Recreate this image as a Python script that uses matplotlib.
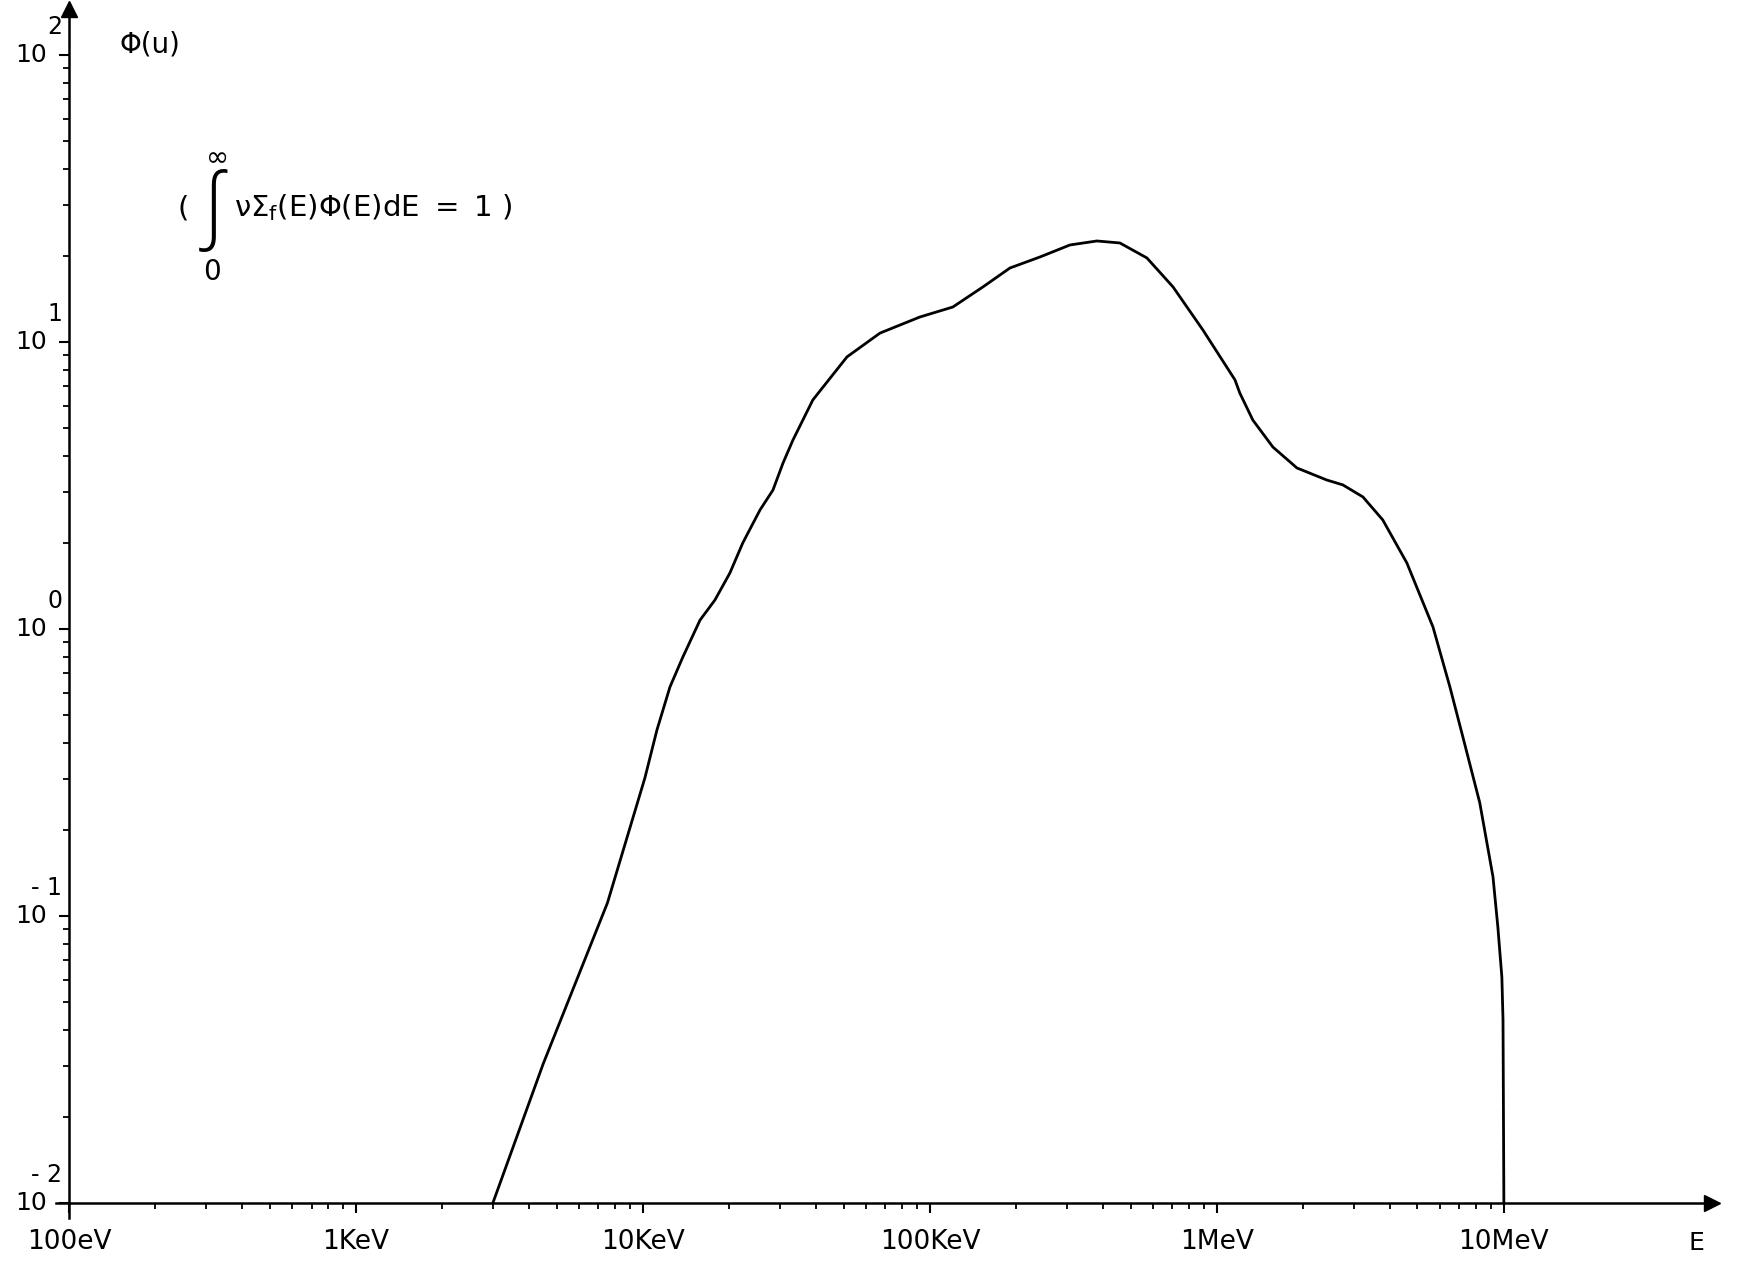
import matplotlib
matplotlib.use("Agg")
import matplotlib.pyplot as plt
from matplotlib.ticker import FixedLocator, FixedFormatter, NullFormatter

plt.rcParams['font.family'] = ['DejaVu Sans']
plt.rcParams['mathtext.default'] = 'regular'

# neutron spectrum, E in eV, phi(u) per unit lethargy
energy = [3.0e3, 4.49e3, 7.52e3, 1.016e4, 1.119e4, 1.242e4, 1.377e4, 1.581e4,
          1.782e4, 2.009e4, 2.228e4, 2.559e4, 2.838e4, 3.076e4, 3.334e4,
          3.908e4, 5.140e4, 6.699e4, 9.226e4, 1.202e5, 1.531e5, 1.901e5,
          2.415e5, 3.076e5, 3.819e5, 4.592e5, 5.702e5, 7.031e5, 8.933e5,
          1.156e6, 1.202e6, 1.334e6, 1.567e6, 1.901e6, 2.415e6, 2.748e6,
          3.228e6, 3.784e6, 4.592e6, 5.662e6, 6.486e6, 7.194e6, 8.241e6,
          9.162e6, 9.528e6, 9.840e6, 9.931e6, 1.0e7]
phi = [0.0100, 0.0305, 0.111, 0.303, 0.445, 0.628, 0.798, 1.074,
       1.262, 1.567, 1.995, 2.600, 3.048, 3.784, 4.560,
       6.281, 8.872, 10.74, 12.22, 13.24, 15.56, 18.11,
       19.77, 21.78, 22.49, 22.13, 19.63, 15.56, 11.02,
       7.379, 6.637, 5.346, 4.305, 3.639, 3.304, 3.177,
       2.884, 2.399, 1.698, 1.016, 0.628, 0.421, 0.248,
       0.137, 0.0916, 0.0612, 0.0435, 0.0100]

x_major = [1e2, 1e3, 1e4, 1e5, 1e6, 1e7]
x_labels = ['100eV', '1KeV', '10KeV', '100KeV', '1MeV', '10MeV']
y_major = [1e-2, 1e-1, 1e0, 1e1, 1e2]
y_exponents = ['- 2', '- 1', '0', '1', '2']

x_minor = [m * d for d in [1e2, 1e3, 1e4, 1e5, 1e6] for m in range(2, 10)]
y_minor = [m * d for d in [1e-2, 1e-1, 1e0, 1e1] for m in range(2, 10)]

fig = plt.figure(figsize=(17.38, 12.62), dpi=100)
ax = fig.add_axes([0.0397, 0.0468, 0.9453, 0.946])
ax.set_xscale('log')
ax.set_yscale('log')
ax.set_xlim(1e2, 10 ** 7.725)
ax.set_ylim(1e-2, 10 ** 2.16)

ax.plot(energy, phi, color='black', linewidth=2.0, solid_joinstyle='round')

for s in ['top', 'right']:
    ax.spines[s].set_visible(False)
for s in ['left', 'bottom']:
    ax.spines[s].set_linewidth(1.8)

# arrow heads and the short overhang of the axes past the origin
ax.plot(1, 0, marker='>', color='black', markersize=12,
        transform=ax.transAxes, clip_on=False)
ax.plot(0, 1, marker='^', color='black', markersize=12,
        transform=ax.transAxes, clip_on=False)
ax.plot([0, 0], [-0.013, 0], color='black', linewidth=1.8,
        transform=ax.transAxes, clip_on=False)
ax.plot([-0.008, 0], [0, 0], color='black', linewidth=1.8,
        transform=ax.transAxes, clip_on=False)

ax.xaxis.set_major_locator(FixedLocator(x_major))
ax.xaxis.set_major_formatter(FixedFormatter(x_labels))
ax.xaxis.set_minor_locator(FixedLocator(x_minor))
ax.xaxis.set_minor_formatter(NullFormatter())
ax.yaxis.set_major_locator(FixedLocator(y_major))
ax.yaxis.set_major_formatter(NullFormatter())
ax.yaxis.set_minor_locator(FixedLocator(y_minor))
ax.yaxis.set_minor_formatter(NullFormatter())

ax.tick_params(which='major', direction='out', length=7, width=1.5,
               labelsize=19)
ax.tick_params(which='minor', direction='out', length=4.5, width=1.3)
ax.tick_params(axis='x', which='major', pad=12)

# y labels drawn as "10" with the exponent set above it, plotter style
for yv, ex in zip(y_major, y_exponents):
    ax.annotate('10', xy=(0, yv), xycoords=('axes fraction', 'data'),
                xytext=(-16, 0), textcoords='offset points',
                ha='right', va='center', fontsize=18)
    ax.annotate(ex, xy=(0, yv), xycoords=('axes fraction', 'data'),
                xytext=(-5, 20), textcoords='offset points',
                ha='right', va='center', fontsize=17)

fig.text(0.069, 0.965, 'Φ(u)', fontsize=20, va='center', ha='left')
fig.text(1696 / 1738, 1 - 1243 / 1262, 'E', fontsize=18, va='center', ha='center')

# normalisation note
fig.text(178 / 1738, 1 - 208 / 1262, '(', fontsize=21, va='center', ha='left')
fig.text(214 / 1738, 1 - 211 / 1262, '∫', fontsize=60, va='center', ha='center',
         family=['Open Sans', 'Lato', 'DejaVu Sans'], fontweight='light')
fig.text(218 / 1738, 1 - 158 / 1262, '∞', fontsize=20, va='center', ha='center')
fig.text(212 / 1738, 1 - 272 / 1262, '0', fontsize=20, va='center', ha='center')
fig.text(234 / 1738, 1 - 208 / 1262, r'$\nu\Sigma_f(E)\Phi(E)dE\ =\ 1\ )$',
         fontsize=21, va='center', ha='left')

fig.savefig('out.png', dpi=100)
